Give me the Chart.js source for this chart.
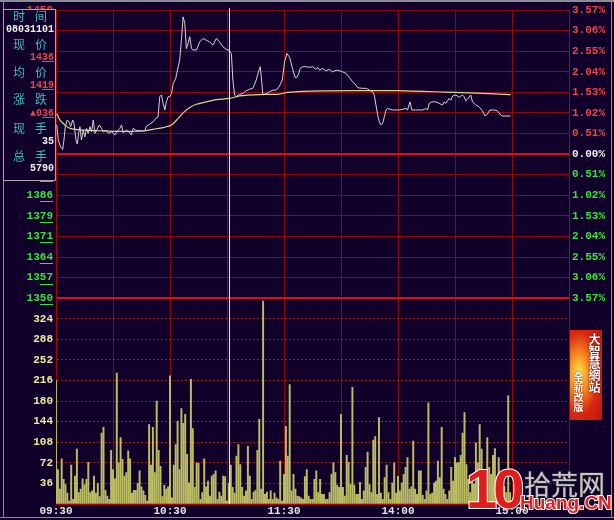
<!DOCTYPE html>
<html>
<head>
<meta charset="utf-8">
<script src="https://cdn.jsdelivr.net/npm/chart.js@4"></script>
<style>
  html, body { margin: 0; padding: 0; background: #10002a; }
  #wrap { position: relative; width: 614px; height: 520px; overflow: hidden; background: #10002a; }
  #chart { position: absolute; left: 0; top: 0; }
  #info { position: absolute; left: 3px; top: 9px; width: 51px; height: 170px;
          border: 1px solid #a8a8a8; background: #10002a; }
  #info .row { position: absolute; left: 0; width: 50px; height: 14px;
               white-space: nowrap; }
  #info .cap { font: 12px "Noto Sans CJK SC"; line-height: 14px; color: #3cbcbc;
               letter-spacing: 10px; padding-left: 9px; }
  #info .val { font: bold 10px "Liberation Mono"; line-height: 14px; text-align: right; }
  #info .red { color: #e84848; }
  #info .wht { color: #f0f0f0; }
  #info u { text-decoration: underline; }
  #banner { position: absolute; left: 570px; top: 330px; width: 32px; height: 90px;
            background: radial-gradient(ellipse at 28% 48%, #ffe848 0%, #f89020 28%, #d82810 62%, #c01010 100%); }
  #banner .b1 { position: absolute; right: 1px; top: 3px; writing-mode: vertical-rl;
                font: bold 12px "Noto Sans CJK TC"; color: #fff; line-height: 13px;
                text-shadow: 0 0 2px #600000, 0 0 1px #600000; }
  #banner .b2 { position: absolute; left: 3px; top: 42px; writing-mode: vertical-rl;
                font: bold 10px "Noto Sans CJK TC"; color: #fff; line-height: 11px;
                text-shadow: 0 0 2px #800000; }
  .wm { position: absolute; white-space: nowrap; }
  #wm10 { left: 466px; top: 456px; font: bold 56px "Liberation Sans"; color: #e01c1c;
          -webkit-text-stroke: 2px #ffffff; paint-order: stroke fill; letter-spacing: -4px; }
  #wmcn { left: 524px; top: 464px; font: 27px "Noto Sans CJK SC"; color: #c8c8c8;
          -webkit-text-stroke: 1px #404040; paint-order: stroke fill; }
  #wmen { left: 520px; top: 492px; font: bold 19px "Liberation Sans"; color: #e02020;
          -webkit-text-stroke: 2px #ffffff; paint-order: stroke fill; }
</style>
</head>
<body>
<div id="wrap">
  <canvas id="chart" width="614" height="520"></canvas>

  <div id="info">
    <div class="row cap" style="top:-1px">时间</div>
    <div class="row val wht" style="top:13px">08031101</div>
    <div class="row cap" style="top:27px">现价</div>
    <div class="row val red" style="top:41px">14<u>36</u></div>
    <div class="row cap" style="top:55px">均价</div>
    <div class="row val red" style="top:69px">14<u>19</u></div>
    <div class="row cap" style="top:82px">涨跌</div>
    <div class="row val red" style="top:97px">▲0<u>36</u></div>
    <div class="row cap" style="top:111px">现手</div>
    <div class="row val wht" style="top:125px">35</div>
    <div class="row cap" style="top:139px">总手</div>
    <div class="row val wht" style="top:152px">5790</div>
  </div>

  <div id="banner"><span class="b1">大智慧網站</span><span class="b2">全新改版</span></div>

  <div class="wm" id="wm10">10</div>
  <div class="wm" id="wmcn">拾荒网</div>
  <div class="wm" id="wmen">Huang.CN</div>
</div>

<script>
// ---- data ----
const preClose = 1400;

const pctTicks = [-3.57, -3.06, -2.55, -2.04, -1.53, -1.02, -0.51, 0,
                  0.51, 1.02, 1.53, 2.04, 2.55, 3.06, 3.57];
const priceTickLabels = ['1350', '1357', '1364', '1371', '1379', '1386', '1393', '1400',
                         '1407', '1414', '1421', '1429', '1436', '1443', '1450'];
const volTicks = [0, 36, 72, 108, 144, 180, 216, 252, 288, 324, 360];

const gridMinutes = [0, 30, 60, 90, 120, 150, 180, 210, 240, 270];
const timeTicks = [0, 60, 120, 180, 240];
const timeLabels = ['09:30', '10:30', '11:30', '14:00', '15:00'];

const cursorMinute = 91;

// price line, minutes from 09:30
const priceTimes = [
  0.4, 1.2, 2.4, 3.5, 4.2, 4.9, 5.9, 6.9, 7.7, 8.8,
  9.5, 10.5, 11.2, 11.9, 12.6, 13.4, 14.3, 15.2, 16.1, 16.9,
  17.9, 18.7, 19.6, 20.5, 21.4, 22.8, 24.0, 24.9, 26.3, 27.5,
  29.3, 31.0, 31.9, 33.6, 34.5, 35.4, 37.1, 38.9, 39.7, 40.6,
  42.0, 43.2, 46.7, 47.6, 49.4, 51.1, 52.5, 53.7, 54.6, 55.5,
  56.4, 57.3, 58.1, 59.0, 59.9, 60.8, 61.7, 63.0, 64.3, 65.1,
  66.0, 66.9, 67.8, 68.6, 69.5, 70.4, 71.3, 72.1, 73.9, 75.6,
  77.4, 79.1, 80.9, 82.6, 84.4, 86.1, 87.9, 89.6, 91.0, 92.3,
  93.1, 94.0, 94.9, 96.6, 98.4, 100.1, 101.9, 103.6, 105.4, 106.8,
  107.5, 108.2, 108.9, 110.7, 112.4, 114.2, 115.9, 117.6, 119.1, 120.3,
  121.5, 123.0, 124.6, 125.8, 126.8, 127.8, 128.5, 129.9, 131.7, 133.4,
  135.1, 136.9, 137.8, 138.7, 140.4, 142.2, 143.9, 145.6, 147.4, 149.2,
  150.9, 152.7, 154.4, 156.1, 157.9, 158.8, 161.4, 163.5, 164.9, 166.7,
  167.5, 168.4, 169.3, 170.2, 171.1, 171.9, 172.8, 173.7, 174.5, 177.2,
  180.7, 184.2, 185.0, 186.3, 187.3, 189.4, 192.9, 194.7, 195.6, 196.4,
  197.8, 199.9, 201.7, 203.4, 204.3, 205.2, 206.9, 207.8, 208.7, 210.4,
  212.2, 213.9, 214.8, 215.7, 216.5, 218.3, 219.2, 221.0, 222.7, 224.4,
  225.8, 227.1, 228.3, 230.6, 232.3, 234.1, 234.9, 239.3
];
const priceValues = [
  1410.1, 1404.9, 1402.5, 1401.6, 1404.9, 1409.5, 1411.8, 1411.2, 1409.5, 1411.8,
  1410.6, 1404.9, 1403.5, 1407.2, 1409.5, 1404.9, 1408.3, 1406.0, 1408.9, 1407.2,
  1409.5, 1407.7, 1411.8, 1407.2, 1408.3, 1410.1, 1408.9, 1407.7, 1408.3, 1407.2,
  1407.7, 1406.6, 1407.7, 1408.9, 1410.1, 1407.4, 1408.3, 1407.4, 1406.6, 1408.9,
  1408.3, 1408.1, 1408.1, 1409.7, 1410.4, 1411.2, 1412.4, 1412.9, 1419.9, 1420.5,
  1417.6, 1415.3, 1418.1, 1419.9, 1419.9, 1421.0, 1424.5, 1426.2, 1430.3, 1432.6,
  1439.5, 1447.6, 1445.3, 1436.6, 1438.4, 1440.7, 1436.6, 1436.1, 1436.1, 1438.9,
  1440.1, 1439.5, 1438.9, 1437.8, 1440.1, 1438.9, 1437.2, 1436.3, 1436.0, 1434.9,
  1425.7, 1420.5, 1419.9, 1420.7, 1421.0, 1422.0, 1422.5, 1422.8, 1425.7, 1429.1,
  1430.3, 1425.7, 1420.5, 1421.0, 1421.6, 1422.2, 1422.2, 1423.6, 1425.7, 1432.0,
  1434.9, 1433.5, 1429.4, 1426.6, 1426.6, 1428.0, 1429.7, 1430.3, 1430.3, 1430.1,
  1430.3, 1429.4, 1430.1, 1429.1, 1429.7, 1428.9, 1429.4, 1428.5, 1429.1, 1428.9,
  1428.5, 1428.0, 1426.6, 1425.1, 1423.9, 1423.0, 1422.8, 1422.8, 1422.2, 1421.6,
  1420.5, 1417.0, 1413.5, 1411.2, 1410.1, 1410.7, 1412.9, 1415.3, 1415.8, 1415.3,
  1415.3, 1415.8, 1415.3, 1418.1, 1415.3, 1415.3, 1415.3, 1415.8, 1415.3, 1417.6,
  1418.1, 1418.1, 1417.6, 1417.0, 1418.1, 1417.6, 1419.3, 1418.7, 1420.1, 1420.5,
  1419.7, 1420.5, 1419.9, 1418.5, 1419.0, 1420.5, 1418.1, 1417.0, 1416.4, 1415.0,
  1413.2, 1413.9, 1415.3, 1415.3, 1415.0, 1413.5, 1413.2, 1413.2
];

// average price line
const avgTimes = [0.4, 2.1, 4.7, 7.4, 14.4, 23.1, 31.9, 45.9, 51.1, 56.4,
                  60.8, 64.3, 66.9, 70.4, 73.9, 79.1, 84.4, 91.4, 96.6, 108.9,
                  117.6, 122.0, 140.0, 160.0, 180.0, 205.0, 231.0, 239.3];
const avgValues = [1414.1, 1411.8, 1410.1, 1408.9, 1408.3, 1408.1, 1407.9, 1408.0, 1408.6, 1409.2,
                   1410.1, 1412.4, 1414.3, 1416.2, 1417.3, 1418.1, 1418.9, 1419.3, 1420.2, 1420.7,
                   1420.8, 1421.4, 1421.9, 1422.0, 1422.0, 1421.5, 1420.9, 1420.6];

// volume per minute, 09:30 .. 14:59
const volumes = [
  216, 60, 26, 79, 43, 34, 19, 5, 68, 8,
  49, 96, 20, 26, 44, 34, 43, 73, 20, 23,
  49, 19, 36, 13, 124, 134, 24, 14, 8, 94,
  60, 44, 229, 72, 116, 78, 49, 55, 93, 79,
  19, 24, 24, 36, 58, 30, 23, 15, 5, 139,
  68, 134, 55, 180, 94, 66, 13, 33, 26, 30,
  224, 11, 68, 104, 145, 60, 167, 141, 157, 87,
  37, 218, 132, 29, 72, 71, 8, 20, 79, 30,
  40, 14, 49, 52, 58, 8, 21, 14, 49, 48,
  5, 36, 68, 29, 19, 84, 104, 69, 29, 14,
  23, 101, 49, 8, 21, 24, 94, 148, 26, 355,
  17, 21, 8, 23, 8, 19, 11, 8, 75, 5,
  52, 136, 84, 209, 23, 52, 26, 14, 13, 11,
  8, 48, 60, 14, 8, 8, 43, 58, 20, 43,
  17, 17, 8, 8, 20, 52, 72, 55, 33, 29,
  157, 29, 14, 85, 73, 34, 204, 33, 17, 17,
  38, 8, 23, 64, 91, 34, 20, 112, 118, 17,
  151, 19, 8, 46, 68, 20, 8, 37, 72, 19,
  49, 23, 37, 52, 64, 81, 26, 30, 110, 26,
  17, 58, 58, 15, 8, 23, 177, 17, 19, 37,
  40, 75, 46, 134, 26, 17, 8, 23, 64, 40,
  81, 72, 73, 85, 124, 160, 69, 43, 20, 50,
  35, 107, 72, 139, 96, 43, 60, 116, 64, 52,
  85, 97, 31, 81, 26, 23, 31, 20, 189, 20
];

// ---- styling ----
const BG = '#10002a';
const RED_TXT = '#e84848';
const GREEN_TXT = '#3ce03c';
const WHITE_TXT = '#f0f0f0';
const VOL_TXT = '#ecec9c';
const GRID = '#880a0a';
const BRIGHT = '#d81010';
const tickFont = { family: 'Liberation Mono', size: 11, weight: 'bold' };

const priceTickValues = pctTicks.map(p => preClose * (1 + p / 100));

function priceColor(v) {
  if (v > preClose + 0.01) return RED_TXT;
  if (v < preClose - 0.01) return GREEN_TXT;
  return WHITE_TXT;
}

const bgPlugin = {
  id: 'bg',
  beforeDraw(chart) {
    const ctx = chart.ctx;
    ctx.save();
    ctx.fillStyle = BG;
    ctx.fillRect(0, 0, chart.width, chart.height);
    ctx.restore();
  },
  afterDraw(chart) {
    const ctx = chart.ctx;
    const area = chart.chartArea;
    const x = chart.scales.x;
    // cursor line
    const cx = Math.round(x.getPixelForValue(cursorMinute)) + 0.5;
    ctx.save();
    ctx.strokeStyle = '#ece4ec';
    ctx.lineWidth = 1;
    ctx.beginPath();
    ctx.moveTo(cx, area.top - 2);
    ctx.lineTo(cx, area.bottom);
    ctx.stroke();

    // underline last two digits of price labels
    const s = chart.scales.yPrice;
    ctx.font = 'bold 11px "Liberation Mono"';
    ctx.lineWidth = 1;
    s.ticks.forEach((t, i) => {
      const label = priceTickLabels[i];
      const y = Math.round(s.getPixelForValue(t.value)) + 6.5;
      const w2 = ctx.measureText(label.slice(-2)).width;
      const xr = s.right - 3;
      ctx.strokeStyle = priceColor(t.value);
      ctx.beginPath();
      ctx.moveTo(xr - w2, y);
      ctx.lineTo(xr, y);
      ctx.stroke();
    });

    // outer frame
    ctx.strokeStyle = '#8c8c98';
    ctx.lineWidth = 2;
    ctx.beginPath();
    ctx.moveTo(0, 1); ctx.lineTo(chart.width, 1);
    ctx.stroke();
    ctx.lineWidth = 1;
    ctx.beginPath();
    ctx.moveTo(0, 517.5); ctx.lineTo(chart.width, 517.5);
    ctx.moveTo(3.5, 0); ctx.lineTo(3.5, 518);
    ctx.moveTo(611.5, 0); ctx.lineTo(611.5, 518);
    ctx.stroke();
    ctx.restore();
  }
};

new Chart(document.getElementById('chart'), {
  type: 'line',
  data: {
    datasets: [
      {
        label: '价格',
        data: priceTimes.map((t, i) => ({ x: t, y: priceValues[i] })),
        yAxisID: 'yPrice',
        borderColor: '#d4d4d4',
        borderWidth: 1,
        pointRadius: 0,
        tension: 0,
        order: 1
      },
      {
        label: '均价',
        data: avgTimes.map((t, i) => ({ x: t, y: avgValues[i] })),
        yAxisID: 'yPrice',
        borderColor: '#dcd88c',
        borderWidth: 1.2,
        pointRadius: 0,
        tension: 0.3,
        order: 2
      },
      {
        type: 'bar',
        label: '成交量',
        data: volumes.map((v, i) => ({ x: i, y: v })),
        yAxisID: 'yVol',
        backgroundColor: '#bcbc64',
        borderWidth: 0,
        barThickness: 1.3,
        order: 3
      }
    ]
  },
  options: {
    responsive: false,
    animation: false,
    layout: { padding: { top: 10, left: 0, right: 0, bottom: 0 } },
    plugins: { legend: { display: false }, tooltip: { enabled: false } },
    scales: {
      x: {
        type: 'linear',
        min: 0,
        max: 270,
        offset: false,
        afterBuildTicks: s => { s.ticks = gridMinutes.map(v => ({ value: v })); },
        afterFit: s => { s.height = 16; },
        ticks: {
          autoSkip: false,
          maxRotation: 0,
          padding: 1,
          color: '#e4e4e4',
          font: tickFont,
          callback: v => {
            const k = timeTicks.indexOf(v);
            return k >= 0 ? timeLabels[k] : '';
          }
        },
        grid: { color: GRID, drawTicks: false, offset: false },
        border: { color: '#a00808' }
      },
      yVol: {
        type: 'linear',
        position: 'left',
        stack: 'left',
        stackWeight: 10,
        min: 0,
        max: 360,
        afterBuildTicks: s => { s.ticks = volTicks.map(v => ({ value: v })); },
        afterFit: s => { s.width = 56; },
        ticks: {
          autoSkip: false,
          padding: 3,
          color: VOL_TXT,
          font: tickFont,
          callback: v => (v > 0 && v < 360) ? String(v) : ''
        },
        grid: {
          drawTicks: false,
          color: c => (c.tick && c.tick.value >= 360) ? 'rgba(0,0,0,0)' : '#962414'
        },
        border: { color: '#a00808', dash: [2, 2] }
      },
      yPrice: {
        type: 'linear',
        position: 'left',
        stack: 'left',
        stackWeight: 14,
        min: priceTickValues[0],
        max: priceTickValues[priceTickValues.length - 1],
        afterBuildTicks: s => { s.ticks = priceTickValues.map(v => ({ value: v })); },
        afterFit: s => { s.width = 56; },
        ticks: {
          autoSkip: false,
          padding: 3,
          font: tickFont,
          color: c => priceColor(c.tick.value),
          callback: (v, i) => priceTickLabels[i]
        },
        grid: {
          drawTicks: false,
          color: c => {
            if (!c.tick) return GRID;
            const v = c.tick.value;
            if (Math.abs(v - preClose) < 0.01 || c.index === 0) return BRIGHT;
            return GRID;
          },
          lineWidth: c => (c.tick && (Math.abs(c.tick.value - preClose) < 0.01 || c.index === 0)) ? 2 : 1
        },
        border: { color: '#a00808' }
      },
      yPct: {
        type: 'linear',
        position: 'right',
        stack: 'right',
        stackWeight: 14,
        min: pctTicks[0],
        max: pctTicks[pctTicks.length - 1],
        afterBuildTicks: s => { s.ticks = pctTicks.map(v => ({ value: v })); },
        afterFit: s => { s.width = 45; },
        ticks: {
          autoSkip: false,
          padding: 3,
          font: tickFont,
          color: c => c.tick.value > 0.001 ? RED_TXT : (c.tick.value < -0.001 ? GREEN_TXT : WHITE_TXT),
          callback: v => Math.abs(v).toFixed(2) + '%'
        },
        grid: { drawOnChartArea: false, drawTicks: false },
        border: { color: '#a00808' }
      },
      yVolRight: {
        type: 'linear',
        position: 'right',
        stack: 'right',
        stackWeight: 10,
        min: 0,
        max: 360,
        afterFit: s => { s.width = 45; },
        ticks: { display: false },
        grid: { drawOnChartArea: false, drawTicks: false },
        border: { color: '#a00808' }
      }
    }
  },
  plugins: [bgPlugin]
});
</script>
</body>
</html>
